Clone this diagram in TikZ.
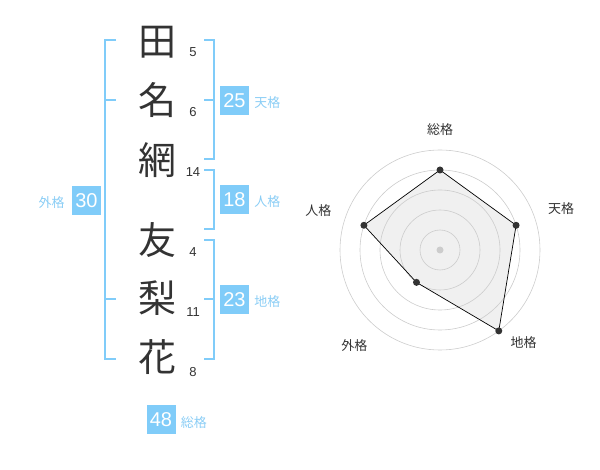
\documentclass[tikz,border=0pt]{standalone}
\usepackage{fontspec}
\setmainfont{Liberation Sans}
\newfontfamily\jp{Noto Sans CJK JP}
\usetikzlibrary{positioning, calc}
\definecolor{skyblue}{HTML}{80CCF9}
\definecolor{labelblue}{HTML}{8ACDF5}
\definecolor{ink}{HTML}{333333}

\begin{document}
\begin{tikzpicture}[x=1pt, y=-1pt,
    kanji/.style={font=\jp\fontsize{38}{38}\selectfont, text=ink, inner sep=0pt},
    strokes/.style={font=\fontsize{13}{13}\selectfont, text=ink, inner sep=0pt},
    score/.style={fill=skyblue, text=white, font=\fontsize{20}{20}\selectfont, minimum size=29pt, inner sep=0pt},
    kaku/.style={font=\jp\fontsize{13}{13}\selectfont, text=labelblue, inner sep=0pt},
    brace/.style={draw=skyblue, line width=2pt},
    ring/.style={draw=black!20, line width=0.6pt},
    dot/.style={circle, fill=ink, inner sep=0pt, minimum size=7pt},
    axislabel/.style={font=\jp\fontsize{13}{13}\selectfont, text=ink, inner sep=0pt}]
    \useasboundingbox (0,0) rectangle (600,470);

    % name characters and stroke counts
    \node (K1) at (157,42) [kanji] {田};
    \node (K2) at (157,100) [kanji] {名};
    \node (K3) at (157,160) [kanji] {網};
    \node (K4) at (157,240) [kanji] {友};
    \node (K5) at (157,298) [kanji] {梨};
    \node (K6) at (157,357) [kanji] {花};

    \node (N1) at (193,52) [strokes] {5};
    \node (N2) at (193,112) [strokes] {6};
    \node (N3) at (193,172) [strokes] {14};
    \node (N4) at (193,252) [strokes] {4};
    \node (N5) at (193,312) [strokes] {11};
    \node (N6) at (193,372) [strokes] {8};

    % brackets
    \draw[brace] (116,40) -- (105,40) -- (105,359) -- (116,359);
    \draw[brace] (105,100) -- (116,100);
    \draw[brace] (105,299) -- (116,299);
    \draw[brace] (204,40) -- (214,40) -- (214,159) -- (204,159);
    \draw[brace] (204,100) -- (214,100);
    \draw[brace] (204,170) -- (214,170) -- (214,229) -- (204,229);
    \draw[brace] (204,240) -- (214,240) -- (214,359) -- (204,359);
    \draw[brace] (204,299) -- (214,299);

    % scores
    \node (Ten) at (234.5,100.5) [score] {25};
    \node (Jin) at (234.5,200) [score] {18};
    \node (Chi) at (234.5,300) [score] {23};
    \node (Gai) at (86.5,201) [score] {30};
    \node (Sou) at (161,419.5) [score] {48};

    \node (TenL) [kaku, right=5pt of Ten, yshift=-2pt] {天格};
    \node (JinL) [kaku, right=5pt of Jin, yshift=-2pt] {人格};
    \node (ChiL) [kaku, right=5pt of Chi, yshift=-2pt] {地格};
    \node (GaiL) [kaku, left=7pt of Gai, yshift=-2pt] {外格};
    \node (SouL) [kaku, right=5pt of Sou, yshift=-3pt] {総格};

    % radar chart
    \begin{scope}[shift={(440,250)}, yscale=-1]
        \coordinate (PSou) at (90:80);
        \coordinate (PTen) at (18:80);
        \coordinate (PChi) at (-54:100);
        \coordinate (PGai) at (-126:40);
        \coordinate (PJin) at (162:80);
        \fill[black!6] (PSou) -- (PTen) -- (PChi) -- (PGai) -- (PJin) -- cycle;

        \foreach \r in {20,40,60,80,100}
            \draw[ring] (0,0) circle[radius=\r];
        \fill[black!20] (0,0) circle[radius=3.5];

        \draw[line width=0.7pt]
            (PSou) -- (PTen) -- (PChi) -- (PGai) -- (PJin) -- cycle;
        \foreach \p in {PSou,PTen,PChi,PGai,PJin}
            \node[dot] at (\p) {};

        \node (RSou) at (90:120) [axislabel] {総格};
        \node (RTen) at (19:128) [axislabel] {天格};
        \node (RChi) at (-48:125) [axislabel] {地格};
        \node (RGai) at (-132:128) [axislabel] {外格};
        \node (RJin) at (162:128) [axislabel] {人格};
    \end{scope}
\end{tikzpicture}
\end{document}
